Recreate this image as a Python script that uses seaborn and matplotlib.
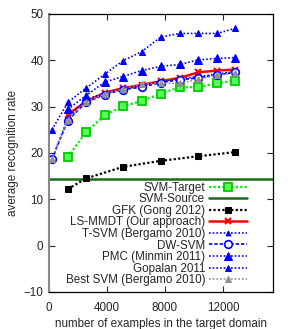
import numpy as np
import pandas as pd
import matplotlib
matplotlib.use("Agg")
import matplotlib.pyplot as plt
import seaborn as sns

# number of target examples
n_examples = [200, 1300, 2550, 3850, 5100, 6400, 7700, 9000, 10300, 11600, 12850]

svm_target = [None, 19.1, 24.5, 28.1, 30.1, 31.2, 32.8, 34.2, 34.2, 35.1, 35.6]
svm_source = 14.4
gfk = [None, 12.2, 14.5, None, 17.0, None, 18.3, None, 19.3, None, 20.2]
ls_mmdt = [None, 28.3, 31.1, 33.0, 34.0, 34.7, 35.5, 36.2, 37.4, 37.8, 38.0]
t_svm = [18.6, 27.5, 31.5, 33.0, 33.8, 34.5, 35.5, 36.0, 36.5, 37.0, 37.6]
dw_svm = [18.6, 27.0, 30.9, 32.6, 33.7, 34.2, 35.2, 35.8, 36.2, 36.9, 37.4]
pmc = [None, 29.4, 32.4, 35.3, 36.5, 37.8, 38.7, 39.1, 40.1, 40.4, 40.6]
gopalan = [25.0, 30.9, 34.0, 37.0, 39.9, 41.9, 45.0, 45.8, 45.8, 45.8, 46.9]
best_svm = [18.6, 27.2, 31.0, 32.8, 33.8, 34.9, 35.1, 35.0, 35.9, 36.8, 37.3]

sns.set_style("ticks")
plt.rcParams['font.family'] = ['Liberation Sans', 'DejaVu Sans']
FS = 8.4
plt.rcParams['font.size'] = FS

fig = plt.figure(figsize=(2.93, 3.29), dpi=100)
ax = fig.add_axes([0.167, 0.1125, 0.765, 0.845])


def draw(vals, label, **kw):
    d = pd.DataFrame({"x": n_examples, "y": vals}).dropna()
    sns.lineplot(data=d, x="x", y="y", ax=ax, label=label, **kw)


draw(svm_target, "SVM-Target", color="#00ee00", ls=(0, (1, 1)), lw=1.6,
     marker="s", ms=5.5, mfc="#55ff55", mec="#00cc00", mew=1.3)
ax.axhline(svm_source, color="#1b6b1b", lw=1.8, label="SVM-Source")
draw(gfk, "GFK (Gong 2012)", color="black", ls=(0, (1, 1)), lw=1.6,
     marker="s", ms=5, mfc="black", mec="black")
draw(ls_mmdt, "LS-MMDT (Our approach)", color="red", ls="-", lw=1.8,
     marker="x", ms=5, mew=1.5, mec="red")
draw(t_svm, "T-SVM (Bergamo 2010)", color="blue", ls=(0, (1, 1.2)), lw=1.2,
     marker="^", ms=3.5, mfc="blue", mec="blue")
draw(dw_svm, "DW-SVM", color="blue", ls=(0, (2, 1.2)), lw=1.2,
     marker="o", ms=5.5, mfc="white", mec="blue", mew=1.2)
draw(pmc, "PMC (Minmin 2011)", color="blue", ls=(0, (1, 1.2)), lw=1.2,
     marker="^", ms=5.5, mfc="blue", mec="blue")
draw(gopalan, "Gopalan 2011", color="blue", ls=(0, (1, 1.2)), lw=1.2,
     marker="^", ms=4, mfc="blue", mec="blue")
draw(best_svm, "Best SVM (Bergamo 2010)", color="#909090", ls=(0, (1, 1.2)), lw=1.2,
     marker="^", ms=4, mfc="#909090", mec="#909090")

ax.set_xlim(0, 15450)
ax.set_ylim(-10, 50)
ax.set_xticks([0, 4000, 8000, 12000])
ax.set_yticks([-10, 0, 10, 20, 30, 40, 50])
ax.tick_params(direction="in", top=True, right=True, length=4, width=0.8, labelsize=FS, pad=4)
ax.tick_params(axis="x", pad=7)
for s in ax.spines.values():
    s.set_linewidth(0.9)
    s.set_color("black")
ax.spines["left"].set_color("#888888")
ax.spines["left"].set_linewidth(1.5)

ax.set_xlabel("number of examples in the target domain", fontsize=FS, labelpad=3)
ax.set_ylabel("average recognition rate", fontsize=FS, labelpad=3)

ax.legend(loc="lower right", frameon=False, markerfirst=False, handlelength=3.3,
          labelspacing=-0.04, borderaxespad=0.2, handletextpad=0.3, fontsize=FS,
          borderpad=0.3, bbox_to_anchor=(0.91, 0.0))

fig.savefig("out.png", dpi=100)
